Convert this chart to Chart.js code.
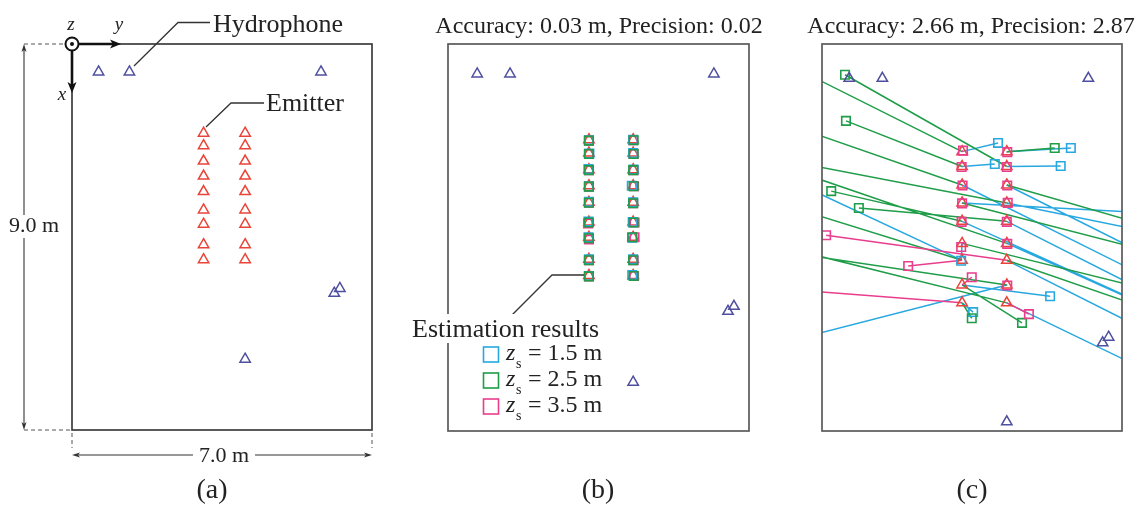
<!DOCTYPE html>
<html><head><meta charset="utf-8">
<script src="https://cdn.jsdelivr.net/npm/chart.js@4.4.0/dist/chart.umd.min.js"></script>
<style>
html,body{margin:0;padding:0;background:#fff;width:1142px;height:511px;overflow:hidden}
canvas{position:absolute;left:0;top:0}
</style></head><body>
<canvas id="ca" width="1142" height="511"></canvas>
<canvas id="cb" width="1142" height="511"></canvas>
<canvas id="cc" width="1142" height="511"></canvas>
<script>
// ---------- DATA (metres; Y = horizontal, X = vertical, downward) ----------
const hydroY = [0.62, 1.34, 5.81, 6.12, 6.25, 4.04];
const hydroX = [0.65, 0.65, 0.65, 5.81, 5.70, 7.35];

const emitY = [3.07,3.07,3.07,3.07,3.07,3.07,3.07,3.07,3.07, 4.04,4.04,4.04,4.04,4.04,4.04,4.04,4.04,4.04];
const emitX = [2.08,2.37,2.73,3.08,3.44,3.87,4.20,4.68,5.03, 2.08,2.37,2.73,3.08,3.44,3.87,4.20,4.68,5.03];

// (b) estimation results
const bCyanY  = [3.07,3.08,3.06,3.07,3.07,3.06,3.06,3.07,3.07, 4.04,4.04,4.05,4.01,4.04,4.03,4.02,4.04,4.02];
const bCyanX  = [2.09,2.38,2.72,3.09,3.43,3.86,4.20,4.68,5.04, 2.08,2.37,2.73,3.08,3.44,3.87,4.21,4.68,5.02];
const bGreenY = [3.07,3.07,3.07,3.07,3.07,3.07,3.07,3.07,3.07, 4.05,4.05,4.04,4.05,4.04,4.05,4.02,4.04,4.05];
const bGreenX = [2.10,2.39,2.74,3.10,3.45,3.88,4.22,4.70,5.05, 2.09,2.39,2.74,3.09,3.46,3.88,4.20,4.70,5.04];
const bMagY   = [3.07,3.07,3.07,3.07,3.07,3.05,3.07,3.07,3.07, 4.04,4.05,4.05,4.06,4.04,4.07,4.07,4.05,4.06];
const bMagX   = [2.10,2.39,2.74,3.10,3.45,3.90,4.25,4.70,5.05, 2.09,2.39,2.74,3.09,3.46,3.88,4.20,4.70,5.04];

// (c) estimation results
const cCyanY  = [3.85,3.78,9.31,9.31,9.31,3.05,-2.62,4.98,3.31, 5.43,5.21,9.31,9.31,9.31,9.31,9.31,-2.62,9.31];
const cCyanX  = [1.91,2.32,5.53,3.38,5.99,4.21,1.81,4.90,5.21, 2.01,2.36,5.10,4.05,5.84,5.99,6.59,6.22,7.32];
const cGreenY = [-2.62,0.55,-2.62,9.31,0.23,9.31,-2.62,4.37,3.28, 5.08,0.53,9.31,-2.62,0.83,-2.62,9.31,-2.62,-2.62];
const cGreenX = [-0.48,1.48,0.95,4.53,2.85,5.26,2.61,5.42,5.33, 2.01,0.58,4.10,1.93,3.18,1.82,5.83,3.79,3.54];
const cMagY   = [3.09,3.06,3.08,3.07,3.06,3.05,1.90,3.28,-2.62, 4.05,4.04,4.05,4.06,4.04,4.05,0.12,4.05,4.52];
const cMagX   = [2.06,2.38,2.74,3.09,3.45,3.94,4.31,4.53,4.63, 2.09,2.38,2.74,3.08,3.45,3.88,3.71,4.69,5.25];

const titleB = 'Accuracy: 0.03 m, Precision: 0.02';
const titleC = 'Accuracy: 2.66 m, Precision: 2.87';
const legendDepths = ['1.5', '2.5', '3.5'];

// ---------- STYLE ----------
const HYDRO = '#4F4F9F', EMIT = '#EA4338';
const CYAN = '#28A8E0', GREEN = '#1F9D48', MAG = '#E93D8D';
const SERIF = '"Liberation Serif", "Times New Roman", serif';

const pts = (ys, xs) => ys.map((v, i) => ({x: v, y: xs[i]}));
const segs = (ys, xs) => {
  const out = [];
  ys.forEach((v, i) => { out.push({x: emitY[i], y: emitX[i]}, {x: v, y: xs[i]}, {x: null, y: null}); });
  return out;
};
function tri(data, color, order) {
  return {data, pointStyle: 'triangle', pointRadius: 6, pointBorderColor: color,
    pointBackgroundColor: 'rgba(0,0,0,0)', pointBorderWidth: 1.5, showLine: false, order};
}
function sq(data, color, order) {
  return {data, pointStyle: 'rect', pointRadius: 6, pointBorderColor: color,
    pointBackgroundColor: 'rgba(0,0,0,0)', pointBorderWidth: 1.6, showLine: false, order};
}
function ln(data, color, order) {
  return {data, showLine: true, borderColor: color, borderWidth: 1.5, pointRadius: 0,
    spanGaps: false, order};
}

function makeChart(id, area, hr, vr, datasets, plugin) {
  return new Chart(document.getElementById(id), {
    type: 'scatter',
    data: {datasets},
    options: {
      responsive: false, animation: false, devicePixelRatio: 1, events: [],
      layout: {padding: {left: area[0], top: area[1], right: 1142 - area[2], bottom: 511 - area[3]}},
      plugins: {legend: {display: false}, tooltip: {enabled: false}},
      scales: {
        x: {type: 'linear', min: hr[0], max: hr[1], display: false},
        y: {type: 'linear', min: vr[0], max: vr[1], reverse: true, display: false}
      }
    },
    plugins: [plugin]
  });
}

// ---------- drawing helpers ----------
function line(ctx, pts, w, c, dash) {
  ctx.save(); ctx.strokeStyle = c; ctx.lineWidth = w; ctx.setLineDash(dash || []);
  ctx.beginPath(); ctx.moveTo(pts[0][0], pts[0][1]);
  for (let i = 1; i < pts.length; i++) ctx.lineTo(pts[i][0], pts[i][1]);
  ctx.stroke(); ctx.restore();
}
function head(ctx, x, y, ang, len, wid, c) {
  ctx.save(); ctx.fillStyle = c; ctx.translate(x, y); ctx.rotate(ang);
  ctx.beginPath(); ctx.moveTo(0, 0); ctx.lineTo(-len, wid / 2); ctx.lineTo(-len * 0.75, 0);
  ctx.lineTo(-len, -wid / 2); ctx.closePath(); ctx.fill(); ctx.restore();
}
function text(ctx, s, x, y, font, align, c, bg) {
  ctx.save(); ctx.font = font; ctx.textAlign = align || 'left'; ctx.textBaseline = 'alphabetic';
  if (bg) {
    const w = ctx.measureText(s).width;
    let x0 = align === 'center' ? x - w / 2 : x;
    ctx.fillStyle = '#fff'; ctx.fillRect(x0 - bg[0], y - bg[1], w + 2 * bg[0], bg[1] + bg[2]);
  }
  ctx.fillStyle = c || '#222'; ctx.fillText(s, x, y); ctx.restore();
}
function box(ctx, ca, c) {
  ctx.save(); ctx.strokeStyle = c; ctx.lineWidth = 1.7;
  ctx.strokeRect(ca.left, ca.top, ca.right - ca.left, ca.bottom - ca.top); ctx.restore();
}

// ---------- panel (a) ----------
const plugA = {id: 'pa', afterDraw(chart) {
  const ctx = chart.ctx, ca = chart.chartArea, D = '#333';
  box(ctx, ca, '#3c3c3c');
  line(ctx, [[24, 44], [66, 44]], 1, '#555', [4, 3]);
  line(ctx, [[24, ca.bottom], [ca.left, ca.bottom]], 1, '#555', [4, 3]);
  line(ctx, [[ca.left, ca.bottom + 3], [ca.left, 448]], 1, '#555', [4, 3]);
  line(ctx, [[ca.right, ca.bottom + 3], [ca.right, 448]], 1, '#555', [4, 3]);
  line(ctx, [[24, 47], [24, ca.bottom - 3]], 1.1, D);
  head(ctx, 24, 44, -Math.PI / 2, 8, 5, D);
  head(ctx, 24, ca.bottom, Math.PI / 2, 8, 5, D);
  text(ctx, '9.0 m', 34, 232, '22px ' + SERIF, 'center', '#222', [2, 17, 6]);
  line(ctx, [[ca.left + 3, 455], [ca.right - 3, 455]], 1.1, D);
  head(ctx, ca.left, 455, Math.PI, 8, 5, D);
  head(ctx, ca.right, 455, 0, 8, 5, D);
  text(ctx, '7.0 m', 224, 462, '22px ' + SERIF, 'center', '#222', [6, 17, 6]);
  line(ctx, [[79, 44], [114, 44]], 2.6, '#111');
  head(ctx, 121, 44, 0, 11, 9, '#111');
  line(ctx, [[72, 51], [72, 86]], 2.6, '#111');
  head(ctx, 72, 93, Math.PI / 2, 11, 9, '#111');
  ctx.save(); ctx.fillStyle = '#fff'; ctx.strokeStyle = '#111'; ctx.lineWidth = 2;
  ctx.beginPath(); ctx.arc(72, 44, 6.5, 0, 2 * Math.PI); ctx.fill(); ctx.stroke();
  ctx.fillStyle = '#111'; ctx.beginPath(); ctx.arc(72, 44, 2, 0, 2 * Math.PI); ctx.fill(); ctx.restore();
  text(ctx, 'z', 71, 30, 'italic 19px ' + SERIF, 'center');
  text(ctx, 'y', 119, 30, 'italic 19px ' + SERIF, 'center');
  text(ctx, 'x', 62, 100, 'italic 19px ' + SERIF, 'center');
  line(ctx, [[134, 66], [178, 22.5], [210, 22.5]], 1.3, D);
  text(ctx, 'Hydrophone', 213, 32, '26px ' + SERIF, 'left');
  line(ctx, [[206, 127], [231, 103], [264, 103]], 1.3, D);
  text(ctx, 'Emitter', 266, 111, '26px ' + SERIF, 'left');
  text(ctx, '(a)', 212, 498, '28px ' + SERIF, 'center');
}};
makeChart('ca', [72, 44, 372, 430], [0, 7], [0, 9], [
  tri(pts(hydroY, hydroX), HYDRO, 1),
  tri(pts(emitY, emitX), EMIT, 2)
], plugA);

// ---------- panel (b) ----------
const plugB = {id: 'pb', afterDraw(chart) {
  const ctx = chart.ctx, ca = chart.chartArea, D = '#333';
  box(ctx, ca, '#5a5a5a');
  text(ctx, titleB, 599, 33, '24px ' + SERIF, 'center');
  line(ctx, [[584, 275], [552, 275], [510, 317]], 1.3, D);
  text(ctx, 'Estimation results', 412, 337, '26px ' + SERIF, 'left', '#222', [2, 23, 6]);
  const cols = [CYAN, GREEN, MAG];
  for (let i = 0; i < 3; i++) {
    const yb = 360 + 26 * i;
    ctx.save(); ctx.strokeStyle = cols[i]; ctx.lineWidth = 1.6;
    ctx.strokeRect(483.5, yb - 13, 15, 15); ctx.restore();
    text(ctx, 'z', 506, yb, 'italic 24px ' + SERIF, 'left');
    text(ctx, 's', 516, yb + 8, '14px ' + SERIF, 'left');
    text(ctx, '= ' + legendDepths[i] + ' m', 528, yb, '24px ' + SERIF, 'left');
  }
  text(ctx, '(b)', 598, 498, '28px ' + SERIF, 'center');
}};
makeChart('cb', [448, 44, 749, 431], [-0.02, 6.58], [0, 8.41], [
  tri(pts(hydroY, hydroX), HYDRO, 1),
  sq(pts(bGreenY, bGreenX), GREEN, 2),
  sq(pts(bCyanY, bCyanX), CYAN, 3),
  sq(pts(bMagY, bMagX), MAG, 4),
  tri(pts(emitY, emitX), EMIT, 5)
], plugB);

// ---------- panel (c) ----------
const plugC = {id: 'pc', afterDraw(chart) {
  const ctx = chart.ctx, ca = chart.chartArea;
  box(ctx, ca, '#5a5a5a');
  text(ctx, titleC, 971, 33, '24px ' + SERIF, 'center');
  text(ctx, '(c)', 972, 498, '28px ' + SERIF, 'center');
}};
makeChart('cc', [822, 44, 1122, 431], [0.03, 6.54], [-0.02, 7.53], [
  tri(pts(hydroY, hydroX), HYDRO, 1),
  sq(pts(cMagY, cMagX), MAG, 4),
  sq(pts(cGreenY, cGreenX), GREEN, 5),
  sq(pts(cCyanY, cCyanX), CYAN, 6),
  tri(pts(emitY, emitX), EMIT, 7),
  ln(segs(cMagY, cMagX), MAG, 8),
  ln(segs(cGreenY, cGreenX), GREEN, 9),
  ln(segs(cCyanY, cCyanX), CYAN, 10)
], plugC);
</script>
</body></html>
